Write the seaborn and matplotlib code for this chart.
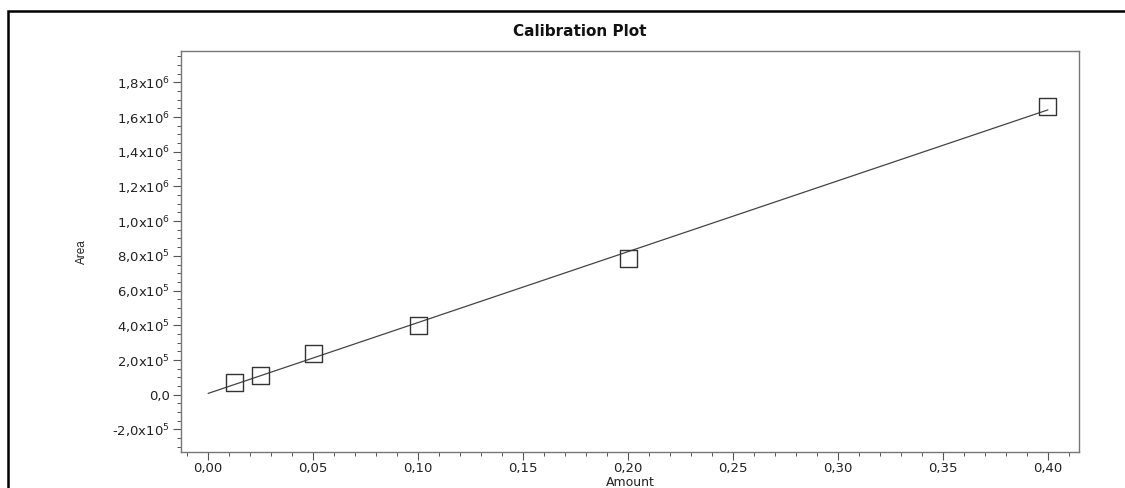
import numpy as np
import pandas as pd
import matplotlib
matplotlib.use("Agg")
import matplotlib.pyplot as plt
from matplotlib.patches import Rectangle
from matplotlib.ticker import MultipleLocator, FixedLocator, FuncFormatter
import seaborn as sns

# Calibration standards
amount = [0.0125, 0.025, 0.05, 0.10, 0.20, 0.40]
area = [6.8e4, 1.1e5, 2.35e5, 4.0e5, 7.87e5, 1.66e6]

x_ticks = [0.00, 0.05, 0.10, 0.15, 0.20, 0.25, 0.30, 0.35, 0.40]
y_ticks = [-2.0e5, 0.0, 2.0e5, 4.0e5, 6.0e5, 8.0e5, 1.0e6, 1.2e6, 1.4e6, 1.6e6, 1.8e6]

sns.set_theme(style="white")
plt.rcParams["font.family"] = ["DejaVu Sans"]
plt.rcParams["mathtext.fontset"] = "dejavusans"

df = pd.DataFrame({"Amount": amount, "Area": area})

# least-squares calibration line, drawn from the origin to the top standard
slope, intercept = np.polyfit(amount, area, 1)
fit_x = np.array([0.0, max(amount)])
fit = pd.DataFrame({"Amount": fit_x, "Area": slope * fit_x + intercept})

fig = plt.figure(figsize=(11.25, 4.88), dpi=100)
ax = fig.add_axes([0.1609, 0.0738, 0.7982, 0.8217])

sns.lineplot(data=fit, x="Amount", y="Area", ax=ax, color="#444444", lw=0.9)
sns.scatterplot(data=df, x="Amount", y="Area", ax=ax, marker="s", s=150,
                facecolor="none", edgecolor="#333333", linewidth=1.0, zorder=3)

ax.set_xlim(-0.0129, 0.4148)
ax.set_ylim(-3.3e5, 1.98e6)

ax.xaxis.set_major_locator(FixedLocator(x_ticks))
ax.xaxis.set_minor_locator(MultipleLocator(0.01))
ax.yaxis.set_major_locator(FixedLocator(y_ticks))
ax.yaxis.set_minor_locator(MultipleLocator(5e4))


def fmt_x(v, pos):
    return f"{v:.2f}".replace(".", ",")


def fmt_y(v, pos):
    if abs(v) < 1e-9:
        return "0,0"
    exp = int(np.floor(np.log10(abs(v))))
    mant = v / 10 ** exp
    return f"{mant:.1f}".replace(".", ",") + "x10$^{" + str(exp) + "}$"


ax.xaxis.set_major_formatter(FuncFormatter(fmt_x))
ax.yaxis.set_major_formatter(FuncFormatter(fmt_y))

ax.tick_params(axis="both", which="major", direction="out", length=6, width=0.8,
               color="#555555", labelsize=9.5, labelcolor="#222222", pad=2,
               bottom=True, left=True)
ax.tick_params(axis="x", which="major", pad=1)
ax.tick_params(axis="both", which="minor", direction="out", length=3, width=0.7,
               color="#555555", bottom=True, left=True)

for s in ax.spines.values():
    s.set_color("#777777")
    s.set_linewidth(1.0)

ax.set_xlabel("Amount", fontsize=9, color="#222222")
ax.xaxis.set_label_coords(0.5, -0.061)
ax.set_ylabel("Area", fontsize=8.5, color="#222222",
              family=["Liberation Sans", "DejaVu Sans"])
ax.yaxis.set_label_coords(-0.104, 0.5)
fig.text(580 / 1125, 1 - 32 / 488, "Calibration Plot", ha="center", va="center",
         fontsize=11, fontweight="bold", color="#111111")

# outer frame around the whole panel
fig.add_artist(Rectangle((8 / 1125, -0.05), 1.2, (1 - 11 / 488) + 0.05,
                         transform=fig.transFigure, fill=False,
                         edgecolor="black", linewidth=1.8))

fig.savefig("out.png", dpi=100)
